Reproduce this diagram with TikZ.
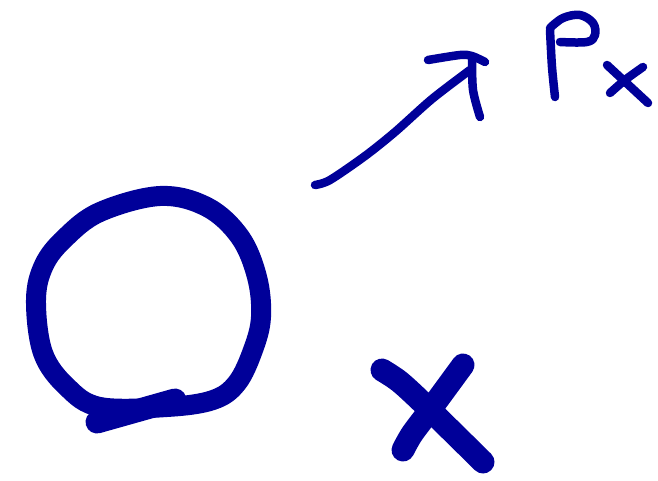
\documentclass[tikz,border=0pt]{standalone}
\definecolor{ink}{RGB}{0,0,153}
\begin{document}
\begin{tikzpicture}[x=1pt,y=-1pt,
  pen/.style={draw=ink,line cap=round,line join=round},
  thin pen/.style={pen,line width=8.5pt},
  thick pen/.style={pen,line width=20pt},
  heavy pen/.style={pen,line width=23pt}]
\useasboundingbox[fill=white] (0,0) rectangle (658,481);
% circle
\draw[thick pen] plot[smooth cycle,tension=0.6] coordinates {
  (36,300) (44,265) (65,238) (100,212) (160,196) (207,207) (240,237)
  (257,277) (261,317) (253,350) (237,383) (213,400) (167,407) (100,407)
  (67,387) (43,353)};
\draw[pen,line width=23pt] (97,422) -- (175,400);
% arrow
\draw[thin pen] plot[smooth,tension=0.5] coordinates {
  (315,185) (330,180) (365,156) (395,132) (432,99) (470,70)};
\draw[thin pen] plot[smooth,tension=0.5] coordinates {
  (428,60) (460,55) (472,56) (485,62)};
\draw[thin pen] plot[smooth,tension=0.5] coordinates {
  (472,58) (473,90) (480,117)};
% P
\draw[thin pen] plot[smooth,tension=0.5] coordinates {
  (555,97) (552,67) (550,30)};
\draw[thin pen] plot[smooth,tension=0.6] coordinates {
  (550,28) (563,18) (580,15) (593,23) (595,35) (587,42) (560,42)};
% subscript x
\draw[thin pen] (607,65) -- (648,103);
\draw[thin pen] plot[smooth,tension=0.5] coordinates {(643,67) (625,80) (610,93)};
% big X
\draw[heavy pen] plot[smooth,tension=0.5] coordinates {(382,370) (400,382) (427,407) (483,462)};
\draw[heavy pen] plot[smooth,tension=0.5] coordinates {(463,365) (430,410) (412,434) (403,450)};
\end{tikzpicture}
\end{document}
